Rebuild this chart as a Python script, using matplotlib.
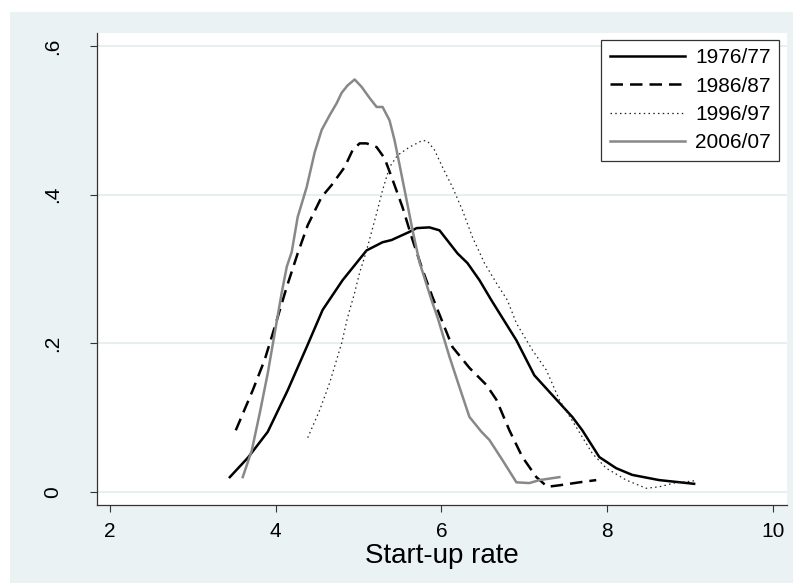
import matplotlib.pyplot as plt
from matplotlib.patches import Rectangle

plt.rcParams['font.family'] = ['Liberation Sans', 'DejaVu Sans']

# kernel density curves
x_1976 = [3.446, 3.663, 3.904, 4.145, 4.373, 4.566, 4.807, 5.096, 5.289, 5.398,
          5.614, 5.699, 5.855, 5.976, 6.193, 6.313, 6.458, 6.602, 6.904, 7.120,
          7.422, 7.578, 7.699, 7.904, 8.108, 8.301, 8.627, 9.048]
y_1976 = [0.020, 0.046, 0.081, 0.137, 0.195, 0.245, 0.285, 0.325, 0.336, 0.339,
          0.350, 0.355, 0.356, 0.352, 0.321, 0.308, 0.285, 0.258, 0.204, 0.157,
          0.120, 0.101, 0.083, 0.047, 0.032, 0.023, 0.016, 0.011]

x_1986 = [3.518, 3.723, 3.867, 3.988, 4.133, 4.265, 4.386, 4.554, 4.675, 4.831,
          4.928, 5.012, 5.096, 5.217, 5.313, 5.410, 5.530, 5.651, 5.771, 5.892,
          6.133, 6.337, 6.542, 6.663, 6.819, 6.976, 7.145, 7.277, 7.422, 7.663,
          7.867]
y_1986 = [0.083, 0.137, 0.178, 0.222, 0.276, 0.321, 0.359, 0.397, 0.413, 0.437,
          0.460, 0.469, 0.469, 0.464, 0.449, 0.420, 0.383, 0.339, 0.299, 0.262,
          0.195, 0.167, 0.144, 0.124, 0.083, 0.047, 0.020, 0.007, 0.009, 0.013,
          0.016]

x_1996 = [4.386, 4.530, 4.651, 4.735, 4.795, 4.867, 4.952, 5.012, 5.072, 5.108,
          5.217, 5.289, 5.373, 5.470, 5.614, 5.771, 5.831, 5.916, 6.012, 6.133,
          6.253, 6.373, 6.518, 6.663, 6.795, 6.904, 7.096, 7.265, 7.422, 7.627,
          7.819, 7.988, 8.229, 8.470, 8.627, 8.807, 9.048]
y_1996 = [0.073, 0.110, 0.147, 0.178, 0.200, 0.235, 0.268, 0.295, 0.316, 0.330,
          0.375, 0.406, 0.437, 0.453, 0.464, 0.473, 0.472, 0.460, 0.437, 0.410,
          0.379, 0.343, 0.308, 0.281, 0.258, 0.227, 0.191, 0.164, 0.124, 0.087,
          0.052, 0.032, 0.016, 0.005, 0.007, 0.012, 0.015]

x_2006 = [3.602, 3.711, 3.807, 3.904, 3.988, 4.072, 4.133, 4.193, 4.265, 4.373,
          4.470, 4.554, 4.651, 4.735, 4.795, 4.867, 4.952, 5.036, 5.133, 5.217,
          5.289, 5.373, 5.434, 5.494, 5.566, 5.651, 5.735, 5.880, 5.952, 6.096,
          6.217, 6.337, 6.482, 6.578, 6.735, 6.904, 7.060, 7.181, 7.422]
y_2006 = [0.020, 0.056, 0.106, 0.160, 0.214, 0.268, 0.303, 0.323, 0.370, 0.410,
          0.457, 0.487, 0.507, 0.523, 0.537, 0.547, 0.555, 0.545, 0.530, 0.518,
          0.518, 0.500, 0.473, 0.440, 0.400, 0.352, 0.309, 0.258, 0.235, 0.182,
          0.141, 0.101, 0.081, 0.070, 0.043, 0.013, 0.012, 0.016, 0.020]

x_ticks = [2, 4, 6, 8, 10]
y_ticks = [0, 0.2, 0.4, 0.6]
y_tick_labels = ['0', '.2', '.4', '.6']

bg = '#EAF2F3'

fig = plt.figure(figsize=(7.93, 5.83), dpi=100, facecolor='white')
fig.patches.append(Rectangle((10 / 793, 0), 1 - 10 / 793, 1 - 12 / 583,
                             transform=fig.transFigure, facecolor=bg,
                             edgecolor='none', zorder=-10))
ax = fig.add_axes([97 / 793, 78 / 583, 690 / 793, 472 / 583])
ax.set_facecolor('white')

ax.plot(x_1976, y_1976, color='black', lw=1.8, label='1976/77')
ax.plot(x_1986, y_1986, color='black', lw=1.8, dashes=(5, 2.8), label='1986/87')
ax.plot(x_1996, y_1996, color='#222222', lw=0.9, dashes=(1.2, 2.6), label='1996/97')
ax.plot(x_2006, y_2006, color='#888888', lw=1.8, label='2006/07')

ax.set_xlim(1.8434, 10.1687)
ax.set_ylim(-0.0175, 0.6175)
ax.set_xticks(x_ticks)
ax.set_yticks(y_ticks)
ax.set_yticklabels(y_tick_labels, rotation=90, va='center')
ax.yaxis.grid(True, color='#E3ECEE', lw=1.2)
ax.set_axisbelow(True)

for side in ['top', 'right']:
    ax.spines[side].set_visible(False)
for side in ['left', 'bottom']:
    ax.spines[side].set_color('#333333')
    ax.spines[side].set_linewidth(0.9)

ax.tick_params(axis='x', length=5, width=0.8, color='#333333', labelsize=15, pad=7)
ax.tick_params(axis='y', length=5, width=0.8, color='#333333', labelsize=15, pad=20)
ax.set_xlabel('Start-up rate', fontsize=20, labelpad=2)

leg = ax.legend(loc='upper right', bbox_to_anchor=(682 / 690, 1 - 7 / 472),
                borderaxespad=0, fontsize=15, handlelength=3.6, handletextpad=0.5,
                labelspacing=0.45, borderpad=0.4, fancybox=False,
                frameon=True, framealpha=1, edgecolor='#333333')
leg.get_frame().set_linewidth(0.9)

fig.savefig('out.png', dpi=100, facecolor=fig.get_facecolor())
